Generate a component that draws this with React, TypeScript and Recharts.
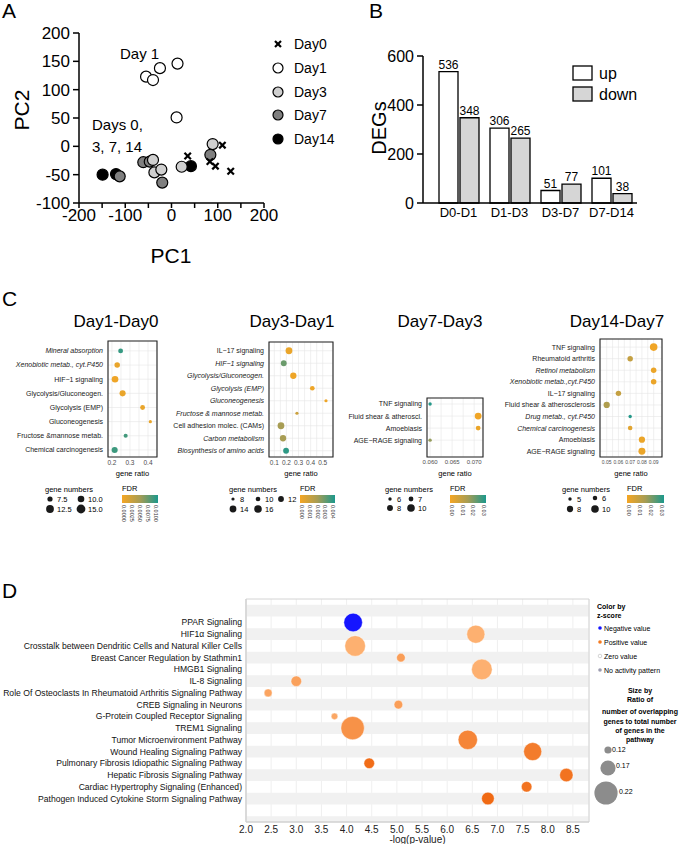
import React from 'react'
import {
  Bar,
  BarChart,
  CartesianGrid,
  LabelList,
  ReferenceArea,
  Scatter,
  ScatterChart,
  XAxis,
  YAxis,
} from 'recharts'

const FONT = '"Liberation Sans", Arial, Helvetica, sans-serif'

// ---- A: PCA scores per day
const pcaDay0 = [
  { x: 35, y: -17 }, { x: 83, y: -27 }, { x: 95, y: -35 }, { x: 110, y: 2 }, { x: 128, y: -44 },
]
const pcaDay1 = [
  { x: -55, y: 123 }, { x: -40, y: 117 }, { x: -25, y: 138 }, { x: 13, y: 146 }, { x: 11, y: 51 },
]
const pcaDay3 = [
  { x: -40, y: -24 }, { x: -37, y: -46 }, { x: -22, y: -41 }, { x: 22, y: -36 }, { x: 89, y: 4 },
]
const pcaDay7 = [
  { x: -61, y: -28 }, { x: -47, y: -27 }, { x: -20, y: -64 }, { x: -112, y: -53 }, { x: 84, y: -15 },
]
const pcaDay14 = [{ x: -149, y: -50 }, { x: -120, y: -49 }, { x: 42, y: -35 }]
const pcaXTicks = [-200, -150, -100, -50, 0, 50, 100, 150, 200]
const pcaYTicks = [-100, -50, 0, 50, 100, 150, 200]

// ---- B: DEG counts
const degPairs = ['D0-D1', 'D1-D3', 'D3-D7', 'D7-D14']
const degUp = [536, 306, 51, 101]
const degDown = [348, 265, 77, 38]

// ---- C: KEGG enrichment
const c1Terms = ['Mineral absorption', 'Xenobiotic metab., cyt.P450', 'HIF\u22121 signaling', 'Glycolysis/Gluconeogen.', 'Glycolysis (EMP)', 'Gluconeogenesis', 'Fructose &mannose metab.', 'Chemical carcinogenesis']
const c1Ratio = [0.248, 0.229, 0.217, 0.259, 0.37, 0.413, 0.276, 0.215]
const c1Genes = [7, 8, 10, 9, 7, 5, 6, 9]
const c1Fdr = [0.0095, 0.0008, 0.0004, 0.0008, 0.0008, 0.0008, 0.009, 0.0092]
const c1Italic = ['Mineral absorption', 'Xenobiotic metab., cyt.P450']

const c2Terms = ['IL\u221217 signaling', 'HIF\u22121 signaling', 'Glycolysis/Gluconeogen.', 'Glycolysis (EMP)', 'Gluconeogenesis', 'Fructose & mannose metab.', 'Cell adhesion molec. (CAMs)', 'Carbon metabolism', 'Biosynthesis of amino acids']
const c2Ratio = [0.221, 0.178, 0.257, 0.414, 0.527, 0.287, 0.155, 0.172, 0.197]
const c2Genes = [14, 12, 13, 10, 8, 8, 14, 13, 12]
const c2Fdr = [0.0003, 0.0032, 0.0002, 0.0002, 0.0002, 0.0012, 0.0022, 0.0022, 0.0042]
const c2Italic = ['HIF\u22121 signaling', 'Glycolysis/Gluconeogen.', 'Glycolysis (EMP)', 'Gluconeogenesis', 'Fructose & mannose metab.', 'Carbon metabolism', 'Biosynthesis of amino acids']

const c3Terms = ['TNF signaling', 'Fluid shear & atheroscl.', 'Amoebiasis', 'AGE\u2212RAGE signaling']
const c3Ratio = [0.06, 0.0709, 0.0709, 0.06]
const c3Genes = [6, 9, 7, 6]
const c3Fdr = [0.031, 0.001, 0.002, 0.018]

const c4Terms = ['TNF signaling', 'Rheumatoid arthritis', 'Retinol metabolism', 'Xenobiotic metab.,cyt.P450', 'IL\u221217 signaling', 'Fluid shear & atherosclerosis', 'Drug metab., cyt.P450', 'Chemical carcinogenesis', 'Amoebiasis', 'AGE\u2212RAGE signaling']
const c4Ratio = [0.09, 0.07, 0.09, 0.09, 0.06, 0.05, 0.07, 0.07, 0.08, 0.08]
const c4Genes = [10, 7, 7, 7, 7, 8, 5, 6, 8, 9]
const c4Fdr = [0.001, 0.01, 0.002, 0.002, 0.01, 0.014, 0.031, 0.004, 0.002, 0.002]
const c4Italic = ['Retinol metabolism', 'Xenobiotic metab.,cyt.P450', 'Drug metab., cyt.P450', 'Chemical carcinogenesis']

// ---- D: IPA canonical pathways
const dPathways = [
  'PPAR Signaling',
  'HIF1\u03b1 Signaling',
  'Crosstalk between Dendritic Cells and Natural Killer Cells',
  'Breast Cancer Regulation by Stathmin1',
  'HMGB1 Signaling',
  'IL-8 Signaling',
  'Role Of Osteoclasts In Rheumatoid Arthritis Signaling Pathway',
  'CREB Signaling in Neurons',
  'G-Protein Coupled Receptor Signaling',
  'TREM1 Signaling',
  'Tumor Microenvironment Pathway',
  'Wound Healing Signaling Pathway',
  'Pulmonary Fibrosis Idiopathic Signaling Pathway',
  'Hepatic Fibrosis Signaling Pathway',
  'Cardiac Hypertrophy Signaling (Enhanced)',
  'Pathogen Induced Cytokine Storm Signaling Pathway',
]
const dLogP = [4.13, 6.57, 4.17, 5.08, 6.69, 3.0, 2.44, 5.03, 3.76, 4.12, 6.41, 7.7, 4.45, 8.37, 7.58, 6.81]
const dZScore = [-2.0, 1.0, 1.0, 1.6, 1.0, 1.5, 1.4, 1.6, 1.3, 2.0, 2.4, 2.7, 3.2, 3.0, 3.0, 3.3]
const dRatio = [0.191, 0.188, 0.204, 0.129, 0.204, 0.141, 0.125, 0.129, 0.116, 0.221, 0.196, 0.188, 0.141, 0.159, 0.141, 0.154]
const dXTicks = [2, 2.5, 3, 3.5, 4, 4.5, 5, 5.5, 6, 6.5, 7, 7.5, 8, 8.5]

// ---- helpers
const lerp = (a: number[], b: number[], t: number) => a.map((v, i) => Math.round(v + (b[i] - v) * t))
const rgb = (c: number[]) => `rgb(${c[0]},${c[1]},${c[2]})`
const clamp = (t: number) => Math.min(1, Math.max(0, t))
const FDR_LOW = [245, 166, 35]
const FDR_MID = [166, 157, 85]
const FDR_HIGH = [27, 152, 140]
function fdrColor(f: number, max: number) {
  const t = clamp(f / max)
  return rgb(t < 0.5 ? lerp(FDR_LOW, FDR_MID, t * 2) : lerp(FDR_MID, FDR_HIGH, (t - 0.5) * 2))
}
function sizeR(n: number, s: number[]) {
  const [n0, r0, n1, r1] = s
  const a = r0 * r0 + ((r1 * r1 - r0 * r0) * (n - n0)) / (n1 - n0)
  return Math.sqrt(Math.max(1, a))
}
const zColor = (z: number) =>
  z < 0 ? '#1515ff' : rgb(lerp([253, 176, 112], [240, 106, 20], clamp((z - 1) / 2.3)))
const ratioR = (r: number) => 2 + (r - 0.1) * 80

const cPanels = [
  {
    id: 'c1', title: 'Day1-Day0', titleX: 116, terms: c1Terms, ratio: c1Ratio, genes: c1Genes, fdr: c1Fdr, italic: c1Italic,
    fdrMax: 0.0105, sizes: [5, 1.6, 15, 4.4], tickFont: 6.5,
    box: { left: 0, width: 170, yw: 108, mt: 11, mr: 13 },
    xDomain: [0.178, 0.45], xTicks: [0.2, 0.25, 0.3, 0.35, 0.4], xMajor: [0.2, 0.3, 0.4], digits: 1, yDomain: [-0.7, 7.5],
    leg: {
      gx: 45, fx: 122, fw: 36, ticks: ['0.0000', '0.0025', '0.0050', '0.0075', '0.0100'],
      items: [{ n: 7.5, l: '7.5', x: 50, y: 499 }, { n: 10, l: '10.0', x: 81, y: 499 }, { n: 12.5, l: '12.5', x: 50, y: 509 }, { n: 15, l: '15.0', x: 81, y: 509 }],
    },
  },
  {
    id: 'c2', title: 'Day3-Day1', titleX: 292, terms: c2Terms, ratio: c2Ratio, genes: c2Genes, fdr: c2Fdr, italic: c2Italic,
    fdrMax: 0.0045, sizes: [8, 1.6, 16, 3.8], tickFont: 6.5,
    box: { left: 160, width: 180, yw: 109, mt: 12, mr: 7 },
    xDomain: [0.056, 0.585], xTicks: [0.1, 0.15, 0.2, 0.25, 0.3, 0.35, 0.4, 0.45, 0.5], xMajor: [0.1, 0.2, 0.3, 0.4, 0.5], digits: 1, yDomain: [-0.7, 8.5],
    leg: {
      gx: 229, fx: 300, fw: 35, ticks: ['0.000', '0.001', '0.002', '0.003', '0.004'],
      items: [{ n: 8, l: '8', x: 233, y: 499 }, { n: 10, l: '10', x: 258, y: 499 }, { n: 12, l: '12', x: 281, y: 499 }, { n: 14, l: '14', x: 233, y: 509 }, { n: 16, l: '16', x: 258, y: 509 }],
    },
  },
  {
    id: 'c3', title: 'Day7-Day3', titleX: 440, terms: c3Terms, ratio: c3Ratio, genes: c3Genes, fdr: c3Fdr, italic: [],
    fdrMax: 0.032, sizes: [6, 1.7, 10, 3.8], tickFont: 6,
    box: { left: 330, width: 165, yw: 97, mt: 68, mr: 12 },
    xDomain: [0.0593, 0.072], xTicks: [0.06, 0.0625, 0.065, 0.0675, 0.07], xMajor: [0.06, 0.065, 0.07], digits: 3, yDomain: [-0.5, 4.4],
    leg: {
      gx: 385, fx: 450, fw: 36, ticks: ['0.00', '0.01', '0.02', '0.03'],
      items: [{ n: 6, l: '6', x: 390, y: 499 }, { n: 7, l: '7', x: 411, y: 499 }, { n: 8, l: '8', x: 390, y: 508 }, { n: 10, l: '10', x: 411, y: 508 }],
    },
  },
  {
    id: 'c4', title: 'Day14-Day7', titleX: 617, terms: c4Terms, ratio: c4Ratio, genes: c4Genes, fdr: c4Fdr, italic: c4Italic,
    fdrMax: 0.032, sizes: [5, 1.7, 10, 3.8], tickFont: 5,
    box: { left: 498, width: 172, yw: 102, mt: 9, mr: 8 },
    xDomain: [0.0443, 0.0971], xTicks: [0.05, 0.055, 0.06, 0.065, 0.07, 0.075, 0.08, 0.085, 0.09], xMajor: [0.05, 0.06, 0.07, 0.08, 0.09], digits: 2, yDomain: [-0.7, 9.5],
    leg: {
      gx: 562, fx: 627, fw: 37, ticks: ['0.00', '0.01', '0.02', '0.03'],
      items: [{ n: 5, l: '5', x: 570, y: 499 }, { n: 6, l: '6', x: 595, y: 498 }, { n: 8, l: '8', x: 570, y: 509 }, { n: 10, l: '10', x: 595, y: 509 }],
    },
  },
]

const crossShape = (p: any) => {
  const d = 3.2
  return (
    <g>
      <line x1={p.cx - d} y1={p.cy - d} x2={p.cx + d} y2={p.cy + d} stroke="#000" strokeWidth={2.2} />
      <line x1={p.cx - d} y1={p.cy + d} x2={p.cx + d} y2={p.cy - d} stroke="#000" strokeWidth={2.2} />
    </g>
  )
}
const dotShape = (fill: string) => (p: any) => (
  <circle cx={p.cx} cy={p.cy} r={5.5} fill={fill} stroke="#000" strokeWidth={1.2} />
)

function PcaChart() {
  const axisStyle = { stroke: '#000', strokeWidth: 1.5 }
  return (
    <ScatterChart width={280} height={285} margin={{ top: 33, right: 16, bottom: 42, left: 0 }}>
      <XAxis
        type="number"
        dataKey="x"
        domain={[-200, 200]}
        ticks={pcaXTicks}
        interval={0}
        tickFormatter={(v: number) => (v % 100 === 0 ? String(v) : '')}
        axisLine={axisStyle}
        tickLine={axisStyle}
        tickSize={5}
        tickMargin={1}
        height={40}
        tick={{ fontSize: 17, fill: '#000', fontFamily: FONT }}
      />
      <YAxis
        type="number"
        dataKey="y"
        domain={[-100, 200]}
        ticks={pcaYTicks}
        interval={0}
        width={79}
        axisLine={axisStyle}
        tickLine={axisStyle}
        tickSize={6}
        tickMargin={3}
        tick={{ fontSize: 17, fill: '#000', fontFamily: FONT }}
      />
      <Scatter data={pcaDay14} shape={dotShape('#000')} isAnimationActive={false} />
      <Scatter data={pcaDay7} shape={dotShape('#7f7f7f')} isAnimationActive={false} />
      <Scatter data={pcaDay3} shape={dotShape('#cfcfcf')} isAnimationActive={false} />
      <Scatter data={pcaDay1} shape={dotShape('#fff')} isAnimationActive={false} />
      <Scatter data={pcaDay0} shape={crossShape} isAnimationActive={false} />
    </ScatterChart>
  )
}

function DegChart() {
  const data = degPairs.map((c, i) => ({ pair: c, up: degUp[i], down: degDown[i] }))
  const axisStyle = { stroke: '#000', strokeWidth: 1.5 }
  return (
    <BarChart width={300} height={235} data={data} margin={{ top: 56, right: 3, bottom: 10, left: 0 }} barSize={19} barGap={2}>
      <XAxis
        dataKey="pair"
        padding={{ left: 10, right: 0 }}
        axisLine={axisStyle}
        tickLine={false}
        tickSize={0}
        tickMargin={5}
        height={22}
        interval={0}
        tick={{ fontSize: 13, fill: '#000', fontFamily: FONT }}
      />
      <YAxis
        domain={[0, 600]}
        ticks={[0, 200, 400, 600]}
        width={83}
        axisLine={axisStyle}
        tickLine={axisStyle}
        tickSize={6}
        tickMargin={3}
        tick={{ fontSize: 16, fill: '#000', fontFamily: FONT }}
      />
      <Bar dataKey="up" fill="#fff" stroke="#000" strokeWidth={1.3} isAnimationActive={false}>
        <LabelList dataKey="up" position="top" offset={3} fontSize={12} fill="#000" fontFamily={FONT} />
      </Bar>
      <Bar dataKey="down" fill="#d6d6d6" stroke="#000" strokeWidth={1.3} isAnimationActive={false}>
        <LabelList dataKey="down" position="top" offset={3} fontSize={12} fill="#000" fontFamily={FONT} />
      </Bar>
    </BarChart>
  )
}

function EnrichPanel({ p }: { p: any }) {
  const data = p.terms.map((t: string, i: number) => ({ x: p.ratio[i], y: i, genes: p.genes[i], fdr: p.fdr[i] }))
  const idx = p.terms.map((_: string, i: number) => i)
  const [x0, x1] = p.xDomain
  const [y0, y1] = p.yDomain
  return (
    <div style={{ position: 'absolute', left: p.box.left, top: 330 }}>
      <ScatterChart width={p.box.width} height={150} margin={{ top: p.box.mt, right: p.box.mr, bottom: 0, left: 0 }}>
        <CartesianGrid stroke="#e6e6e6" strokeWidth={0.6} />
        <XAxis
          type="number"
          dataKey="x"
          domain={p.xDomain}
          allowDataOverflow
          ticks={p.xTicks}
          interval={0}
          axisLine={false}
          tickLine={false}
          tickSize={2}
          tickMargin={1}
          height={23}
          tick={(t: any) =>
            p.xMajor.some((m: number) => Math.abs(m - t.payload.value) < 1e-9) ? (
              <text x={t.x} y={t.y} dy="0.71em" textAnchor="middle" fontSize={p.tickFont} fontFamily={FONT} fill="#4d4d4d">
                {t.payload.value.toFixed(p.digits)}
              </text>
            ) : (
              <g />
            )
          }
          label={{ value: 'gene ratio', position: 'insideBottom', offset: 4, fontSize: 7.5, fill: '#000', fontFamily: FONT }}
        />
        <YAxis
          type="number"
          dataKey="y"
          domain={p.yDomain}
          allowDataOverflow
          reversed
          ticks={idx}
          interval={0}
          width={p.box.yw}
          axisLine={false}
          tickLine={false}
          tickSize={2}
          tickMargin={3}
          tick={(t: any) => (
            <text
              x={t.x}
              y={t.y}
              dy="0.35em"
              textAnchor="end"
              fontSize={7}
              fontFamily={FONT}
              fill="#1a1a1a"
              fontStyle={p.italic.includes(p.terms[t.payload.value]) ? 'italic' : 'normal'}
            >
              {p.terms[t.payload.value]}
            </text>
          )}
        />
        <ReferenceArea x1={x0} x2={x1} y1={y0} y2={y1} fill="none" stroke="#222" strokeWidth={1.1} ifOverflow="visible" />
        <Scatter
          data={data}
          isAnimationActive={false}
          shape={(s: any) => (
            <circle cx={s.cx} cy={s.cy} r={sizeR(s.payload.genes, p.sizes)} fill={fdrColor(s.payload.fdr, p.fdrMax)} />
          )}
        />
      </ScatterChart>
    </div>
  )
}

function PathwayChart() {
  const data = dPathways.map((n, i) => ({ x: dLogP[i], y: i + 1, z: dZScore[i], ratio: dRatio[i] }))
  const rows = Array.from({ length: 19 }, (_, i) => i).filter((i) => i % 2 === 0)
  return (
    <ScatterChart width={681} height={254} margin={{ top: 9, right: 92, bottom: 0, left: 0 }}>
      {rows.map((r) => (
        <ReferenceArea key={r} x1={2} x2={8.82} y1={r - 0.5} y2={Math.min(18, r + 0.5)} fill="#f1f1f1" fillOpacity={1} stroke="none" ifOverflow="hidden" />
      ))}
      <CartesianGrid horizontal={false} stroke="#e4e4e4" strokeWidth={0.6} />
      <XAxis
        type="number"
        dataKey="x"
        domain={[2, 8.82]}
        allowDataOverflow
        ticks={dXTicks}
        interval={0}
        tickFormatter={(v: number) => v.toFixed(1)}
        axisLine={{ stroke: '#cfcfcf' }}
        tickLine={false}
        tickSize={0}
        tickMargin={4}
        height={22}
        tick={{ fontSize: 10, fill: '#222', fontFamily: FONT }}
        label={{ value: '-log(p-value)', position: 'insideBottom', offset: 1, fontSize: 10, fill: '#222', fontFamily: FONT }}
      />
      <YAxis
        type="number"
        dataKey="y"
        domain={[-1, 18]}
        allowDataOverflow
        reversed
        ticks={dPathways.map((_, i) => i + 1)}
        interval={0}
        width={246}
        axisLine={{ stroke: '#cfcfcf' }}
        tickLine={false}
        tickSize={0}
        tickMargin={4}
        tick={(t: any) => (
          <text x={t.x} y={t.y} dy="0.35em" textAnchor="end" fontSize={8.6} fontFamily={FONT} fill="#111">
            {dPathways[t.payload.value - 1]}
          </text>
        )}
      />
      <ReferenceArea x1={2} x2={8.82} y1={-1} y2={18} fill="none" stroke="#d4d4d4" ifOverflow="visible" />
      <Scatter
        data={data}
        isAnimationActive={false}
        shape={(s: any) => (
          <circle cx={s.cx} cy={s.cy} r={ratioR(s.payload.ratio)} fill={zColor(s.payload.z)} stroke="rgba(255,255,255,0.7)" strokeWidth={0.6} />
        )}
      />
    </ScatterChart>
  )
}

function Overlay() {
  const t = { fontFamily: FONT, fill: '#000' }
  return (
    <svg width={681} height={844} style={{ position: 'absolute', left: 0, top: 0, pointerEvents: 'none' }}>
      <defs>
        <linearGradient id="fdrGrad" x1="0" x2="1" y1="0" y2="0">
          <stop offset="0%" stopColor={rgb(FDR_LOW)} />
          <stop offset="50%" stopColor={rgb(FDR_MID)} />
          <stop offset="100%" stopColor={rgb(FDR_HIGH)} />
        </linearGradient>
      </defs>
      {/* panel letters */}
      <text x={2} y={10} fontSize={21} dominantBaseline="central" {...t}>A</text>
      <text x={369} y={10} fontSize={21} dominantBaseline="central" {...t}>B</text>
      <text x={2} y={298} fontSize={21} dominantBaseline="central" {...t}>C</text>
      <text x={2} y={590} fontSize={21} dominantBaseline="central" {...t}>D</text>

      {/* A */}
      <text x={21} y={110} fontSize={21} textAnchor="middle" dominantBaseline="central" transform="rotate(-90 21 110)" {...t}>PC2</text>
      <text x={171} y={255} fontSize={21} textAnchor="middle" dominantBaseline="central" {...t}>PC1</text>
      <text x={120} y={53} fontSize={15} dominantBaseline="central" {...t}>Day 1</text>
      <text x={92} y={124} fontSize={15} dominantBaseline="central" {...t}>Days 0,</text>
      <text x={92} y={146} fontSize={15} dominantBaseline="central" {...t}>3, 7, 14</text>
      <g>
        <line x1={275} y1={41} x2={281} y2={47} stroke="#000" strokeWidth={2.2} />
        <line x1={275} y1={47} x2={281} y2={41} stroke="#000" strokeWidth={2.2} />
        <circle cx={278} cy={68} r={5} fill="#fff" stroke="#000" strokeWidth={1.2} />
        <circle cx={278} cy={92} r={5} fill="#cfcfcf" stroke="#000" strokeWidth={1.2} />
        <circle cx={278} cy={115} r={5} fill="#7f7f7f" stroke="#000" strokeWidth={1.2} />
        <circle cx={278} cy={139} r={5} fill="#000" stroke="#000" strokeWidth={1.2} />
        <text x={294} y={44} fontSize={14} dominantBaseline="central" {...t}>Day0</text>
        <text x={294} y={68} fontSize={14} dominantBaseline="central" {...t}>Day1</text>
        <text x={294} y={92} fontSize={14} dominantBaseline="central" {...t}>Day3</text>
        <text x={294} y={115} fontSize={14} dominantBaseline="central" {...t}>Day7</text>
        <text x={294} y={139} fontSize={14} dominantBaseline="central" {...t}>Day14</text>
      </g>

      {/* B */}
      <text x={379} y={128} fontSize={20} textAnchor="middle" dominantBaseline="central" transform="rotate(-90 379 128)" {...t}>DEGs</text>
      <rect x={573} y={66} width={19} height={14} fill="#fff" stroke="#000" strokeWidth={1.3} />
      <rect x={573} y={87} width={19} height={14} fill="#d6d6d6" stroke="#000" strokeWidth={1.3} />
      <text x={599} y={73} fontSize={16} dominantBaseline="central" {...t}>up</text>
      <text x={599} y={94} fontSize={16} dominantBaseline="central" {...t}>down</text>

      {/* C titles and legends */}
      {cPanels.map((p) => (
        <g key={p.id}>
          <text x={p.titleX} y={321} fontSize={17} textAnchor="middle" dominantBaseline="central" {...t}>{p.title}</text>
          <text x={p.leg.gx} y={489} fontSize={7.5} dominantBaseline="central" {...t}>gene numbers</text>
          {p.leg.items.map((it: any) => (
            <g key={it.l}>
              <circle cx={it.x} cy={it.y} r={sizeR(it.n, p.sizes)} fill="#1a1a1a" />
              <text x={it.x + 7} y={it.y} fontSize={7.5} dominantBaseline="central" {...t}>{it.l}</text>
            </g>
          ))}
          <text x={p.leg.fx} y={488} fontSize={7.5} dominantBaseline="central" {...t}>FDR</text>
          <rect x={p.leg.fx} y={495} width={p.leg.fw} height={8} fill="url(#fdrGrad)" />
          {p.leg.ticks.map((lab: string, i: number) => {
            const x = p.leg.fx + 2 + (i * (p.leg.fw - 4)) / (p.leg.ticks.length - 1)
            return (
              <text key={lab} x={x} y={505} fontSize={5.5} dominantBaseline="central" transform={`rotate(90 ${x} 505)`} {...t} fill="#333">
                {lab}
              </text>
            )
          })}
        </g>
      ))}

      {/* D legend */}
      <g fontSize={7} {...t}>
        <text x={597} y={606} fontWeight="bold" dominantBaseline="central">Color by</text>
        <text x={597} y={615} fontWeight="bold" dominantBaseline="central">z-score</text>
        <circle cx={600} cy={628} r={1.8} fill="#1515ff" />
        <text x={604} y={628} dominantBaseline="central">Negative value</text>
        <circle cx={600} cy={642} r={1.8} fill="#f47a20" />
        <text x={604} y={642} dominantBaseline="central">Positive value</text>
        <circle cx={600} cy={656} r={1.8} fill="#fff" stroke="#aaa" strokeWidth={0.5} />
        <text x={604} y={656} dominantBaseline="central">Zero value</text>
        <circle cx={600} cy={670} r={1.8} fill="#9c9cb0" />
        <text x={604} y={670} dominantBaseline="central">No activity pattern</text>
        <text x={640} y={690} fontWeight="bold" textAnchor="middle" dominantBaseline="central">Size by</text>
        <text x={640} y={699} fontWeight="bold" textAnchor="middle" dominantBaseline="central">Ratio of</text>
        <text x={640} y={711} fontWeight="bold" textAnchor="middle" dominantBaseline="central">number of overlapping</text>
        <text x={640} y={721} fontWeight="bold" textAnchor="middle" dominantBaseline="central">genes to total number</text>
        <text x={640} y={730} fontWeight="bold" textAnchor="middle" dominantBaseline="central">of genes in the</text>
        <text x={640} y={739} fontWeight="bold" textAnchor="middle" dominantBaseline="central">pathway</text>
        <circle cx={608} cy={750} r={ratioR(0.12)} fill="#8c8c8c" />
        <text x={612} y={749} dominantBaseline="central">0.12</text>
        <circle cx={608} cy={768} r={ratioR(0.17)} fill="#8c8c8c" />
        <text x={616} y={765} dominantBaseline="central">0.17</text>
        <circle cx={606} cy={793} r={ratioR(0.22)} fill="#8c8c8c" />
        <text x={619} y={791} dominantBaseline="central">0.22</text>
      </g>
    </svg>
  )
}

export default function App() {
  return (
    <div style={{ position: 'absolute', left: 0, top: 0, width: 681, height: 844, background: '#fff', overflow: 'hidden', fontFamily: FONT }}>
      <div style={{ position: 'absolute', left: 0, top: 0 }}>
        <PcaChart />
      </div>
      <div style={{ position: 'absolute', left: 340, top: 0 }}>
        <DegChart />
      </div>
      {cPanels.map((p) => (
        <EnrichPanel key={p.id} p={p} />
      ))}
      <div style={{ position: 'absolute', left: 0, top: 590 }}>
        <PathwayChart />
      </div>
      <Overlay />
    </div>
  )
}
